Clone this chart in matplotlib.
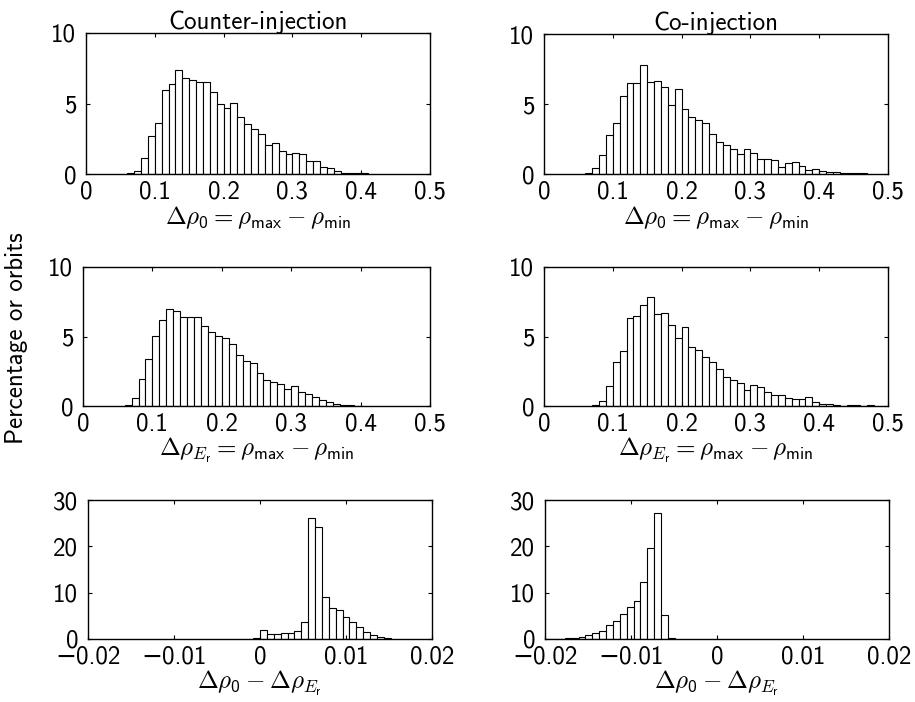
import numpy as np
import matplotlib
matplotlib.use("Agg")
import matplotlib.pyplot as plt

plt.rcParams["font.family"] = ["cmss10", "DejaVu Sans"]
plt.rcParams["mathtext.fontset"] = "custom"
plt.rcParams["mathtext.rm"] = "cmss10"
plt.rcParams["mathtext.sf"] = "cmss10"
plt.rcParams["mathtext.it"] = "cmmi10"
plt.rcParams["mathtext.fallback"] = "cm"
plt.rcParams["axes.unicode_minus"] = True
plt.rcParams["font.size"] = 18

# --- data: percentage of orbits per bin ---
# rho histograms: bin width 0.01, first bin left edge given
counter_rho0_lo = 0.06
counter_rho0 = [0.1, 0.2, 1.14, 2.7, 3.65, 5.97, 6.37, 7.35, 6.8, 6.7,
                6.56, 6.5, 5.85, 4.98, 4.67, 5.02, 4.05, 3.53, 3.18, 2.82,
                2.06, 2.18, 1.66, 1.45, 1.47, 1.45, 0.9, 0.9, 0.47, 0.4,
                0.19, 0.1, 0.1, 0.07, 0.05]
co_rho0_lo = 0.06
co_rho0 = [0.1, 0.45, 1.33, 2.76, 3.67, 5.55, 6.5, 6.5, 7.76, 6.55,
           6.67, 6.2, 4.95, 6.07, 4.62, 4.05, 3.86, 3.64, 2.88, 2.26,
           2.07, 1.79, 1.4, 1.79, 1.48, 1.07, 1.05, 1.0, 0.52, 0.76,
           0.83, 0.6, 0.26, 0.33, 0.24, 0.14, 0.12, 0.07, 0.07, 0.05, 0.05]
counter_rhoE_lo = 0.06
counter_rhoE = [0.07, 0.6, 1.97, 3.37, 5.02, 6.18, 6.97, 6.8, 6.37, 6.37,
                6.37, 5.75, 5.31, 5.02, 4.9, 4.47, 3.65, 3.25, 3.1, 2.36,
                1.85, 1.73, 1.61, 1.23, 1.47, 1.0, 0.84, 0.67, 0.46, 0.29,
                0.12, 0.07, 0.05, 0.03]
co_rhoE_lo = 0.07
co_rhoE = [0.07, 0.33, 1.41, 3.18, 3.97, 6.36, 6.44, 7.25, 7.85, 6.63,
           6.67, 5.86, 4.9, 5.65, 4.21, 4.0, 3.56, 3.16, 2.68, 2.08,
           1.84, 1.67, 1.15, 1.51, 1.39, 1.0, 0.77, 0.77, 0.55, 0.48,
           0.48, 0.62, 0.26, 0.12, 0.12, 0.1, 0.0, 0.05, 0.05, 0.02, 0.05]
rho_bin = 0.01

# difference histograms: bin width 0.0008
counter_diff_lo = -0.0008
counter_diff = [0.3, 2.0, 1.0, 1.15, 1.2, 1.2, 1.66, 3.7, 26.1, 24.1,
                9.1, 6.6, 6.35, 4.8, 3.75, 2.67, 1.44, 0.8, 0.36, 0.14]
co_diff_lo = -0.0201
co_diff = [0.05, 0.07, 0.1, 0.14, 0.2, 0.36, 0.8, 1.3, 1.8, 3.0,
           3.8, 5.4, 6.8, 8.2, 12.3, 19.6, 27.3, 5.2, 0.15]
diff_bin = 0.0008

rho_ticks = [0, 0.1, 0.2, 0.3, 0.4, 0.5]
rho_ticklabels = ["0", "0.1", "0.2", "0.3", "0.4", "0.5"]
diff_ticks = [-0.02, -0.01, 0, 0.01, 0.02]
diff_ticklabels = ["\u22120.02", "\u22120.01", "0", "0.01", "0.02"]

titles = ["Counter-injection", "Co-injection"]
xlab_rho0 = r"$\Delta\rho_{0} = \rho_{\mathsf{max}} - \rho_{\mathsf{min}}$"
xlab_rhoE = r"$\Delta\rho_{E_{\mathsf{r}}} = \rho_{\mathsf{max}} - \rho_{\mathsf{min}}$"
xlab_diff = r"$\Delta\rho_{0} - \Delta\rho_{E_{\mathsf{r}}}$"

W, H = 915, 702
fig = plt.figure(figsize=(W / 100, H / 100), dpi=100)


def px_axes(left, top, right, bottom):
    return fig.add_axes([left / W, 1 - bottom / H, (right - left) / W, (bottom - top) / H])


panels = [
    # (box px, values, lo, width, xlim, xticks, xticklabels, ylim, yticks, xlabel, title)
    ((86, 33, 430, 174), counter_rho0, counter_rho0_lo, rho_bin, (0, 0.5),
     rho_ticks, rho_ticklabels, (0, 10), [0, 5, 10], xlab_rho0, titles[0]),
    ((544, 34, 888, 174), co_rho0, co_rho0_lo, rho_bin, (0, 0.5),
     rho_ticks, rho_ticklabels, (0, 10), [0, 5, 10], xlab_rho0, titles[1]),
    ((83, 267, 430, 406), counter_rhoE, counter_rhoE_lo, rho_bin, (0, 0.5),
     rho_ticks, rho_ticklabels, (0, 10), [0, 5, 10], xlab_rhoE, None),
    ((544, 267, 888, 406), co_rhoE, co_rhoE_lo, rho_bin, (0, 0.5),
     rho_ticks, rho_ticklabels, (0, 10), [0, 5, 10], xlab_rhoE, None),
    ((88, 500, 432, 639), counter_diff, counter_diff_lo, diff_bin, (-0.02, 0.02),
     diff_ticks, diff_ticklabels, (0, 30), [0, 10, 20, 30], xlab_diff, None),
    ((545, 500, 889, 639), co_diff, co_diff_lo, diff_bin, (-0.02, 0.02),
     diff_ticks, diff_ticklabels, (0, 30), [0, 10, 20, 30], xlab_diff, None),
]

for (box, vals, lo, width, xlim, xticks, xticklabels, ylim, yticks,
     xlabel, title) in panels:
    ax = px_axes(*box)
    vals = np.asarray(vals)
    left = lo + width * np.arange(len(vals))
    ax.bar(left, vals, width=width, align="edge", facecolor="white",
           edgecolor="black", linewidth=0.8)
    ax.set_xlim(*xlim)
    ax.set_ylim(*ylim)
    ax.set_xticks(xticks)
    ax.set_xticklabels(xticklabels)
    ax.set_yticks(yticks)
    ax.set_yticklabels([str(v) for v in yticks])
    ax.tick_params(direction="in", length=3, width=0.8, top=True, right=True,
                   labelsize=18)
    ax.tick_params(axis="x", pad=5)
    ax.tick_params(axis="y", pad=7)
    for sp in ax.spines.values():
        sp.set_linewidth(1.0)
    ax.set_xlabel(xlabel, fontsize=18, labelpad=0)
    if title:
        ax.set_title(title, fontsize=18, pad=3)

fig.text(17 / W, 1 - 338 / H, "Percentage or orbits", rotation=90,
         ha="center", va="center", fontsize=18)

fig.savefig("out.png", dpi=100)
